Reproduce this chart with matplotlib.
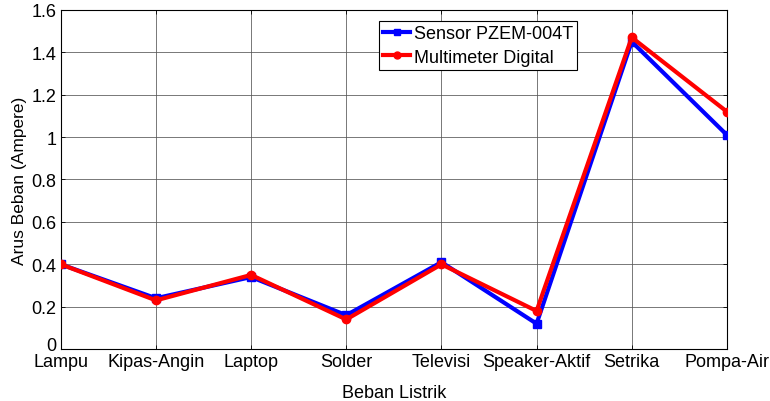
import matplotlib
matplotlib.use("Agg")
import matplotlib.pyplot as plt
import matplotlib.transforms as mtransforms

categories = ["Lampu", "Kipas-Angin", "Laptop", "Solder", "Televisi",
              "Speaker-Aktif", "Setrika", "Pompa-Air"]
sensor = [0.40, 0.24, 0.34, 0.16, 0.41, 0.12, 1.45, 1.01]
multimeter = [0.40, 0.23, 0.35, 0.14, 0.40, 0.18, 1.47, 1.12]
yticks = [0, 0.2, 0.4, 0.6, 0.8, 1, 1.2, 1.4, 1.6]
ytick_labels = ["0", "0.2", "0.4", "0.6", "0.8", "1", "1.2", "1.4", "1.6"]

plt.rcParams['font.family'] = ['Liberation Sans', 'DejaVu Sans']
fig = plt.figure(figsize=(7.7, 4.02), dpi=100)
ax = fig.add_axes([0.079, 0.129, 0.865, 0.844])

FS = 13
x = list(range(len(categories)))
ax.plot(x, sensor, color='#0000ff', lw=3, marker='s', ms=6, label='Sensor PZEM-004T', zorder=3)
ax.plot(x, multimeter, color='#ff0000', lw=3, marker='o', ms=6, label='Multimeter Digital', zorder=4)

ax.set_xlim(0, len(categories) - 1)
ax.set_ylim(0, 1.6)
ax.set_xticks(x)
ax.set_xticklabels(categories, fontsize=FS)
ax.set_yticks(yticks)
ax.set_yticklabels(ytick_labels, fontsize=FS)
ax.tick_params(direction='in', top=True, right=True, length=3, width=0.6)
ax.tick_params(axis='x', pad=3)
ax.tick_params(axis='y', pad=3)
ax.grid(True, color='#555555', lw=0.7, alpha=0.8)
for s in ax.spines.values():
    s.set_linewidth(0.8)
ax.set_xlabel("Beban Listrik", fontsize=FS, labelpad=10)
ax.set_ylabel("Arus Beban (Ampere)", fontsize=12.5, labelpad=3)

# nudge the "0" label up slightly so it does not collide with "Lampu"
zero = ax.get_yticklabels()[0]
zero.set_transform(zero.get_transform() + mtransforms.ScaledTranslation(0, 6 / 100, fig.dpi_scale_trans))

leg = ax.legend(loc='upper left', bbox_to_anchor=(0.477, 0.968), fontsize=FS,
                fancybox=False, edgecolor='black', framealpha=1,
                handlelength=1.5, handletextpad=0.2, borderpad=0.25, labelspacing=0.35,
                borderaxespad=0)
leg.get_frame().set_linewidth(0.8)
for h in leg.legend_handles:
    h.set_markersize(5)

fig.savefig("out.png", dpi=100)
